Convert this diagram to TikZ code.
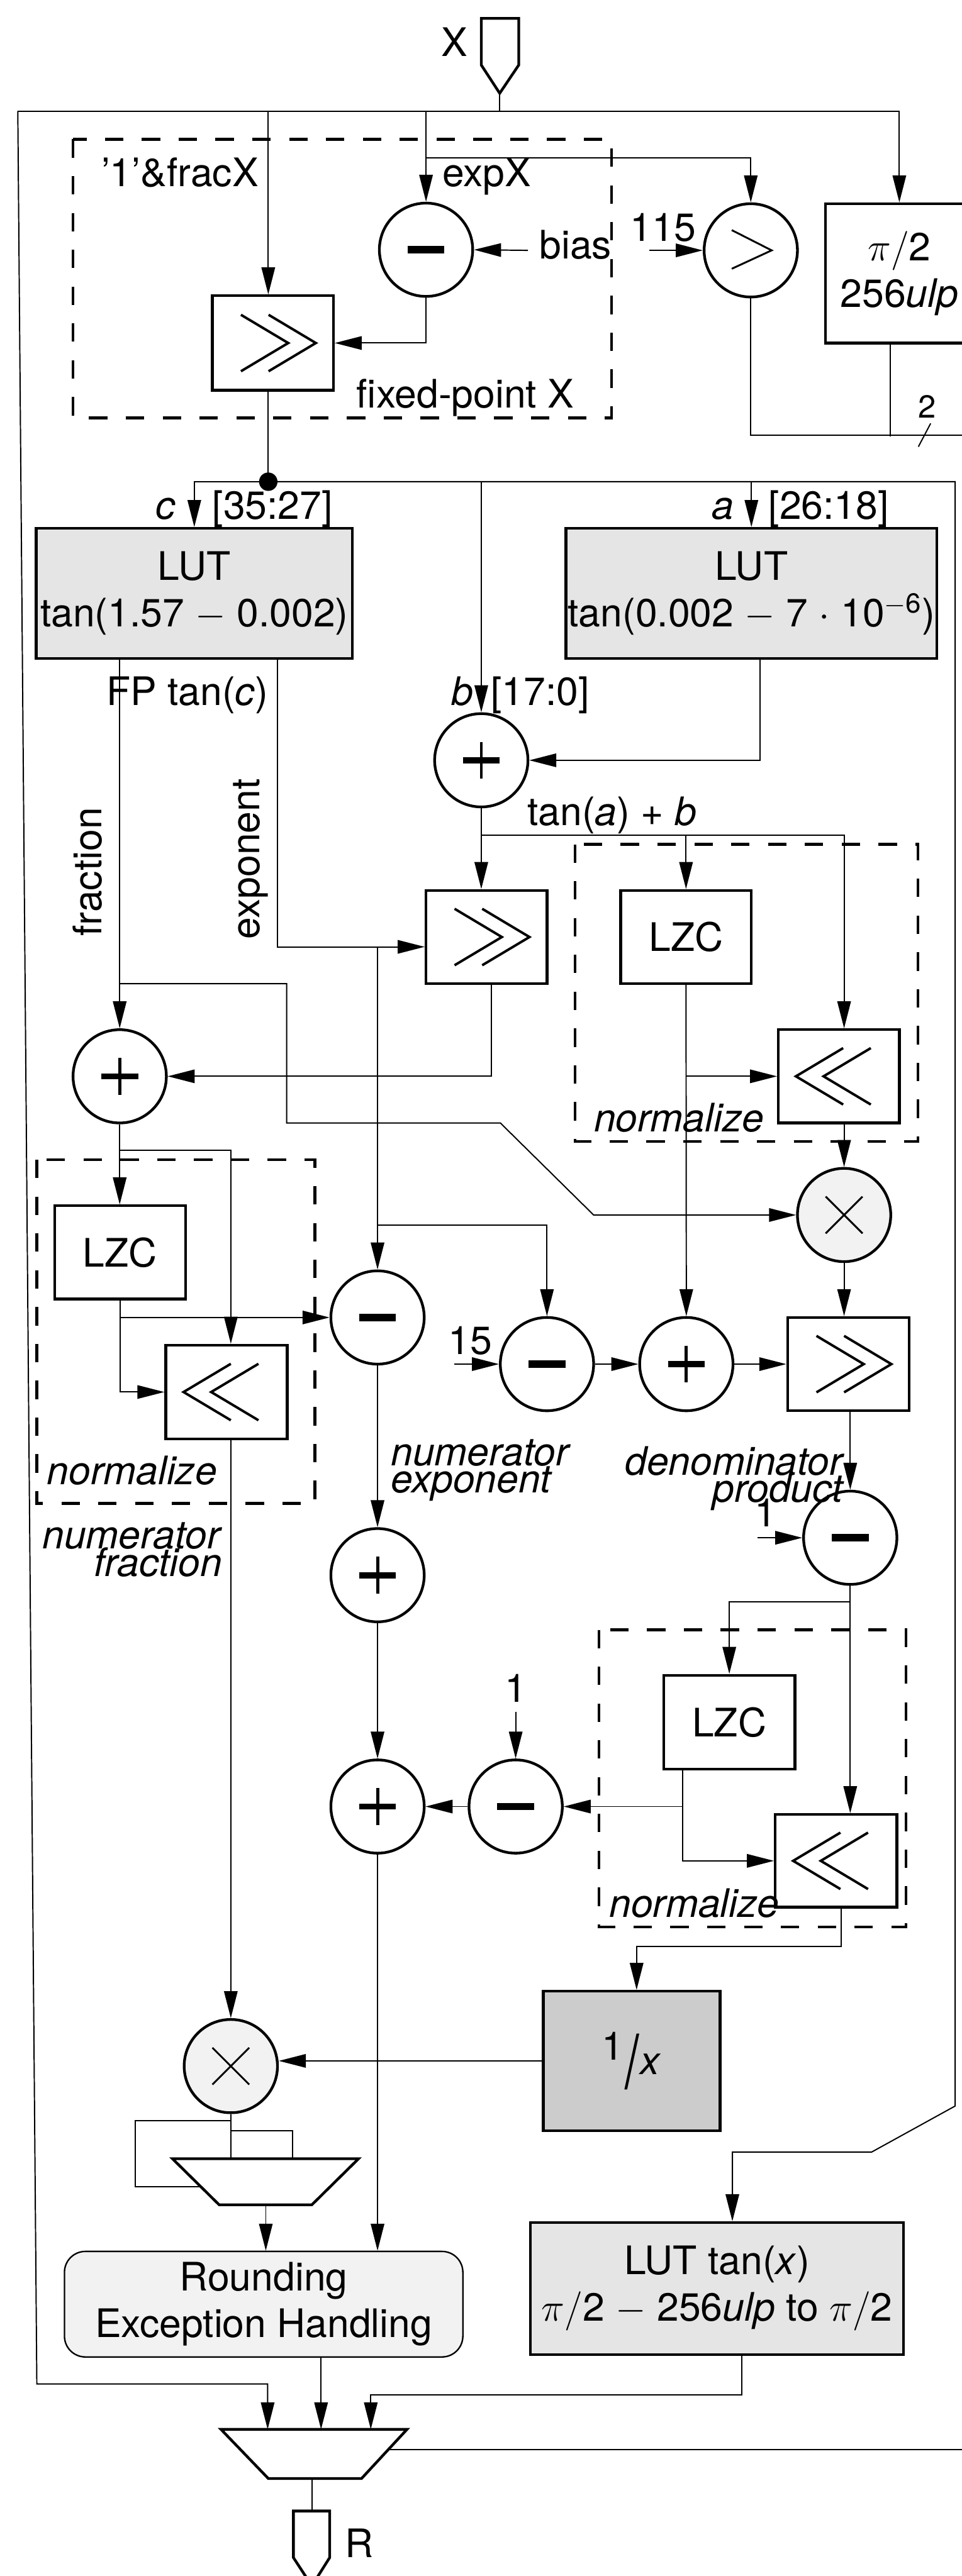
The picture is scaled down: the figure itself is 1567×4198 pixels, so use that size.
\RequirePackage{fix-cm}
\documentclass[tikz,border=0pt]{standalone}
\usepackage{fontspec}
\setmainfont{TeX Gyre Heros}
\usepackage{graphicx}
\usetikzlibrary{arrows.meta,calc}
\tikzset{
  blk/.style={draw, line width=2.2pt, inner sep=0pt, align=center},
  lutblk/.style={blk, fill=gray!20},
  opc/.style={draw, circle, line width=2.2pt, minimum size=76pt, inner sep=0pt},
  symc/.style={path picture={\begin{scope}[shift={(path picture bounding box.center)}]#1\end{scope}}},
  subop/.style={opc, symc={\draw[line width=6pt] (-30,0) -- (30,0);}},
  addop/.style={opc, symc={\draw[line width=5pt] (-30,0) -- (30,0); \draw[line width=2.5pt] (0,-30) -- (0,30);}},
  mulop/.style={opc, fill=gray!10, symc={\draw[line width=1.5pt] (-30,-30) -- (30,30) (-30,30) -- (30,-30);}},
  cmpop/.style={opc, symc={\draw[line width=1.5pt] (-31,-33) -- (34,0) -- (-31,30);}},
  shrop/.style={blk, symc={\draw[line width=2pt] (-52,-46) -- (25,0) -- (-52,46) (-7,-46) -- (70,0) -- (-7,46);}},
  shlop/.style={blk, symc={\draw[line width=2pt] (52,-46) -- (-25,0) -- (52,46) (7,-46) -- (-70,0) -- (7,46);}},
  lbl/.style={inner sep=0pt, anchor=base},
  dbox/.style={line width=2.2pt, dash pattern=on 15pt off 15pt},
  pinsh/.style={line width=2.2pt, line join=miter},
}
\begin{document}
\begin{tikzpicture}[x=0.5pt, y=-0.5pt, font=\fontsize{32}{38}\selectfont,
  >={Triangle[length=22pt,width=11pt]}, line width=1pt]
\useasboundingbox (0,0) rectangle (1567,4198);
\fill[white] (0,0) rectangle (1567,4198);
\clip (0,0) rectangle (1567,4198);

% ---------- dashed groups ----------
\draw[dbox] (119,227) rectangle (996,681);
\draw[dbox] (937,1376) rectangle (1495,1860);
\draw[dbox] (60,1890) rectangle (513,2450);
\draw[dbox] (976,2656) rectangle (1476,3140);

% ---------- coordinates ----------
\coordinate (xin) at (814,152);
\coordinate (t0) at (814,181);
\coordinate (tl) at (29,181);
\coordinate (lbot) at (60,3885);
\coordinate (j1) at (437,181);
\coordinate (j2) at (694,181);
\coordinate (ex) at (694,257);
\coordinate (biasin) at (860,408);
\coordinate (c115) at (1058,408);
\coordinate (rt) at (1580,709);
\coordinate (tk1) at (1516,690);
\coordinate (tk2) at (1496,728);
\coordinate (dot) at (437,785);
\coordinate (r1) at (1556,785);
\coordinate (r2) at (1556,3432);
\coordinate (r3) at (1420,3507);
\coordinate (r4) at (1193,3507);
\coordinate (jb) at (784,785);
\coordinate (ja) at (1224,785);
\coordinate (ex0) at (452,1073);
\coordinate (e2) at (615,1543);
\coordinate (e3) at (615,1996);
\coordinate (t1) at (784,1361);
\coordinate (fb) at (195,1603);
\coordinate (fb1) at (467,1603);
\coordinate (fb2) at (467,1830);
\coordinate (fb3) at (815,1830);
\coordinate (fb4) at (967,1980);
\coordinate (n1) at (195,1875);
\coordinate (c15) at (740,2223);
\coordinate (c1a) at (1234,2506);
\coordinate (d1) at (1385,2610);
\coordinate (c1b) at (840,2790);
\coordinate (mb1) at (376,3456);
\coordinate (mb2) at (220,3456);
\coordinate (mb3) at (220,3564);
\coordinate (mx1s) at (326,3564);
\coordinate (mc1) at (376,3472);
\coordinate (mc2) at (477,3472);
\coordinate (mx1a) at (376,3518);
\coordinate (mx1b) at (477,3518);
\coordinate (mx1o) at (433,3593);
\coordinate (mx2a) at (436,3959);
\coordinate (mx2b) at (523,3959);
\coordinate (mx2c) at (604,3959);
\coordinate (mx2s) at (632,3992);
\coordinate (rr) at (1580,3992);
\coordinate (mx2o) at (508,4039);
\coordinate (pinR) at (508,4092);

% ---------- pins and muxes ----------
\draw[pinsh] (784,30) -- (845,30) -- (845,106) -- (xin) -- (784,106) -- cycle;
\draw[pinsh] (478,4092) -- (537,4092) -- (537,4168) -- (508,4214) -- (478,4168) -- cycle;
\draw[pinsh] (281,3518) -- (584,3518) -- (508,3593) -- (357,3593) -- cycle;
\draw[pinsh] (360,3959) -- (663,3959) -- (589,4039) -- (437,4039) -- cycle;

% ---------- blocks ----------
\node[subop] (sub1) at (694,407) {};
\node[cmpop] (cmp) at (1223,408) {};
\node[blk, minimum width=120pt, minimum height=113.5pt] (pi2) at (1465,445.5) {$\pi/$2\\256\textit{ulp}};
\node[shrop, minimum width=98.5pt, minimum height=77pt] (shr1) at (444.5,559) {};
\node[lutblk, minimum width=257.5pt, minimum height=106pt] (lutc) at (316.5,967) {LUT\\tan(1.57 $-$ 0.002)};
\node[lutblk, minimum width=302pt, minimum height=106pt] (luta) at (1224,967) {LUT\\tan(0.002 $-$ 7 $\cdot$ 10\textsuperscript{$-$6})};
\node[addop] (add1) at (784,1239) {};
\node[shrop, minimum width=98.5pt, minimum height=76pt] (shr2) at (792.5,1527) {};
\node[blk, minimum width=106.5pt, minimum height=76pt] (lzc2) at (1117.5,1527) {LZC};
\node[shlop, minimum width=98.5pt, minimum height=76pt] (shl2) at (1366.5,1754) {};
\node[addop] (add2) at (195,1754) {};
\node[mulop] (mul1) at (1375,1980) {};
\node[blk, minimum width=106.5pt, minimum height=76pt] (lzc3) at (195.5,2041) {LZC};
\node[shlop, minimum width=99pt, minimum height=76.5pt] (shl3) at (369,2268.5) {};
\node[subop] (sub2) at (615,2147) {};
\node[subop] (sub3) at (891,2223) {};
\node[addop] (add3) at (1118,2223) {};
\node[shrop, minimum width=99pt, minimum height=76pt] (shr3) at (1382,2223) {};
\node[subop] (sub4) at (1385,2506) {};
\node[addop] (add4) at (615,2567) {};
\node[blk, minimum width=107pt, minimum height=76.5pt] (lzc4) at (1188,2806.5) {LZC};
\node[shlop, minimum width=99pt, minimum height=75.5pt] (shl4) at (1362,3032.5) {};
\node[subop] (sub5) at (840,2944) {};
\node[addop] (add5) at (615,2944) {};
\node[blk, fill=gray!40, minimum width=144pt, minimum height=113.5pt] (recip) at (1029,3358.5)
  {\raisebox{12pt}{1}\kern1pt\raisebox{-11pt}{\scalebox{1.3}[1.9]{/}}\kern1pt\textit{x}};
\node[mulop] (mul2) at (376,3367) {};
\node[draw, line width=1.2pt, rounded corners=17pt, fill=gray!10, align=center, inner sep=0pt,
  minimum width=324.5pt, minimum height=86pt] (round) at (429.5,3755) {Rounding\\Exception Handling};
\node[lutblk, minimum width=304pt, minimum height=107.5pt] (luttan) at (1168,3729.5)
  {LUT tan(\textit{x})\\$\pi/$2 $-$ 256\textit{ulp} to $\pi/$2};

% ---------- labels ----------
\node[lbl] (lX) at (740,92) {X};
\node[lbl] (lfracx) at (293,304) {'1'\&fracX};
\node[lbl, anchor=base west] (lexpx) at (720,304) {expX};
\node[lbl, anchor=base west] (lbias) at (878,422) {bias};
\node[lbl] (lfix) at (758,665) {fixed-point X};
\node[lbl] (l115) at (1080,393) {115};
\node[lbl, font=\fontsize{26}{30}\selectfont] (ltwo) at (1510,681) {2};
\node[lbl] (lc) at (270,846) {\textit{c}};
\node[lbl] (lcr) at (444,846) {[35:27]};
\node[lbl] (la) at (1177,846) {\textit{a}};
\node[lbl] (lar) at (1350,846) {[26:18]};
\node[lbl] (lfp) at (305,1149) {FP tan(\textit{c})};
\node[lbl] (lb) at (753,1149) {\textit{b}};
\node[lbl] (lbr) at (880,1149) {[17:0]};
\node[lbl, rotate=90] (lfr) at (166,1421) {fraction};
\node[lbl, rotate=90] (lexn) at (423,1400) {exponent};
\node[lbl] (ltab) at (997,1345) {tan(\textit{a}) + \textit{b}};
\node[lbl] (lnorm1) at (1106,1844) {\textit{normalize}};
\node[lbl] (lnorm2) at (215,2419) {\textit{normalize}};
\node[lbl] (lnorm3) at (1131,3124) {\textit{normalize}};
\node[lbl] (l15) at (766,2207) {15};
\node[lbl, anchor=base west] (lne1) at (636,2388) {\textit{numerator}};
\node[lbl, anchor=base west] (lne2) at (636,2433) {\textit{exponent}};
\node[lbl, anchor=base east] (lnf1) at (363,2524) {\textit{numerator}};
\node[lbl, anchor=base east] (lnf2) at (363,2569) {\textit{fraction}};
\node[lbl, anchor=base east] (ld1) at (1377,2404) {\textit{denominator}};
\node[lbl, anchor=base east] (ld2) at (1377,2448) {\textit{product}};
\node[lbl] (l1a) at (1247,2488) {1};
\node[lbl] (l1b) at (840,2774) {1};
\node[lbl] (lR) at (585,4168) {R};

% ---------- connectors ----------
\draw (xin) -- (t0);
\draw[->] (tl) -| (pi2.north);
\draw[->] (tl) -- (lbot) -| (mx2a);
\draw[->] (j1) -- (j1 |- shr1.north);
\draw[->] (j2) -- (sub1.north);
\draw[->] (ex) -| (cmp.north);
\draw[->] (biasin) -- (sub1.east);
\draw[->] (c115) -- (cmp.west);
\draw[->] (sub1.south) |- (shr1.east);
\draw (cmp.south) |- (rt);
\draw ($(pi2.south)+(-15,0)$) -- ++(0,150);
\draw (tk1) -- (tk2);

\draw (j1 |- shr1.south) -- (dot);
\fill (dot) circle[radius=7.5pt];
\draw[->] (dot) -| (lutc.north);
\draw[->] (dot) -- (r1) -- (r2) -- (r3) -- (r4) -- (r4 |- luttan.north);
\draw[->] (jb) -- (add1.north);
\draw[->] (ja) -- (luta.north);
\draw[->] ($(luta.south)+(14,0)$) |- (add1.east);

\draw[->] (add2.north |- lutc.south) -- (add2.north);
\draw[->] (fb) -- (fb1) -- (fb2) -- (fb3) -- (fb4) -- (mul1.west);
\draw[->] (ex0) |- ($(shr2.west)+(0,16)$);
\draw[->] (e2) -- (sub2.north);
\draw[->] (e3) -| (sub3.north);

\draw[->] (add1.south) -- (add1.south |- shr2.north);
\draw[->] (t1) -| (lzc2.north);
\draw[->] (t1) -| ($(shl2.north)+(8.5,0)$);
\draw[->] ($(shr2.south)+(7.5,0)$) |- (add2.east);
\draw[->] (lzc2.south) -- (add3.north);
\draw[->] (lzc2.south |- shl2.west) -- (shl2.west);
\draw[->] ($(shl2.south)+(8.5,0)$) -- (mul1.north);
\draw[->] (mul1.south) -- (mul1.south |- shr3.north);

\draw[->] (add2.south) -- (add2.south |- lzc3.north);
\draw[->] (n1) -| ($(shl3.north)+(7,0)$);
\draw[->] (lzc3.south) |- (shl3.west);
\draw[->] (lzc3.south |- sub2.west) -- (sub2.west);
\draw[->] ($(shl3.south)+(7,0)$) -- (mul2.north);

\draw[->] (sub2.south) -- (add4.north);
\draw[->] (add4.south) -- (add5.north);
\draw[->] (c15) -- (sub3.west);
\draw[->] (sub3.east) -- (add3.west);
\draw[->] (add3.east) -- (shr3.west);
\draw[->] (sub4.north |- shr3.south) -- (sub4.north);
\draw[->] (c1a) -- (sub4.west);
\draw[->] (sub4.south) -- (sub4.south |- shl4.north);
\draw[->] (d1) -| (lzc4.north);
\coordinate (lz4o) at ($(lzc4.south)+(-76,0)$);
\draw[->] (lz4o) |- (shl4.west);
\draw[->] (lz4o |- sub5.east) -- (sub5.east);
\draw[->] (c1b) -- (sub5.north);
\draw[->] (sub5.west) -- (add5.east);
\draw[->] ($(shl4.south)+(8,0)$) -- ++(0,62) -| ($(recip.north)+(8,0)$);
\draw[->] (recip.west) -- (recip.west -| mul2.east);

\draw[->] (add5.south) -- (add5.south |- round.north);
\draw (mul2.south) -- (mx1a);
\draw (mb1) -- (mb2) -- (mb3) -- (mx1s);
\draw (mc1) -- (mc2) -- (mx1b);
\draw[->] (mx1o) -- (mx1o |- round.north);
\draw[->] ($(round.south)+(93.5,0)$) -- (mx2b);
\draw[->] ($(luttan.south)+(40,0)$) -- ++(0,64) -| (mx2c);
\draw (mx2s) -- (rr);
\draw (mx2o) -- (pinR);
\end{tikzpicture}
\end{document}
